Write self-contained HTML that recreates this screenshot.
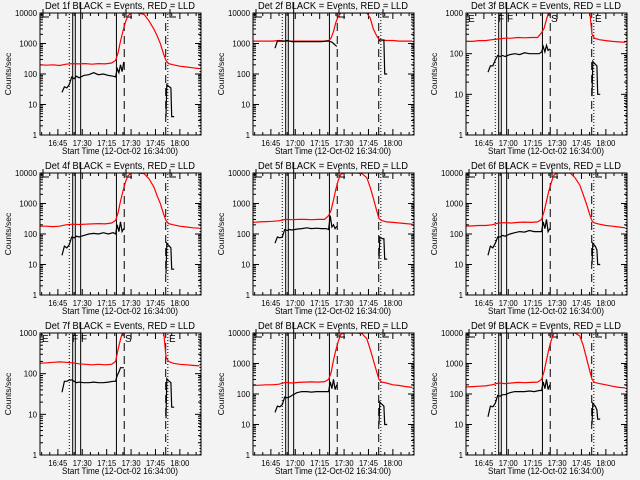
<!DOCTYPE html>
<html><head><meta charset="utf-8"><style>
html,body{margin:0;padding:0;background:#f3f3f3;}
svg{display:block;font-family:"Liberation Sans",sans-serif;}
</style></head><body>
<svg id="chart" width="640" height="480" viewBox="0 0 640 480">
<rect x="0" y="0" width="640" height="480" fill="#f3f3f3"/>
</svg>
<script>
// ---- data ----
const detectorNames = ["1f","2f","3f","4f","5f","6f","7f","8f","9f"];
const yMaxes = [10000,10000,1000,10000,10000,10000,1000,10000,10000];
const redTimes = [0,4,8,12,16,20,24,28,32,36,40,44,46.5,48,49.5,51,52.5,54,56,60,64,67,70,72,74,76,77.5,79,82,86,90,94,98];
const red1 = [200,195,200,190,210,220,215,220,210,220,215,230,280,500,1200,2500,5000,8000,10000,10000,9000,5500,3000,1800,1000,450,280,220,200,180,170,160,150];
const red2 = [1200,1200,1200,1200,1250,1200,1200,1200,1200,1200,1200,1200,1250,1500,2500,5000,8000,10000,10000,10000,10000,10000,10000,7000,3000,1800,1350,1300,1250,1250,1200,1200,1200];
const red3 = [200,200,210,210,220,230,240,240,250,245,250,250,330,420,700,1100,3000,8000,10000,10000,10000,10000,10000,10000,5000,1200,300,240,220,210,200,195,190];
const red4 = [180,180,175,180,200,210,205,210,215,220,215,230,280,500,1200,2500,5000,8000,10000,10000,9500,6500,3500,1800,1000,450,280,220,200,180,170,160,155];
const red5 = [240,250,255,260,270,300,295,300,300,295,300,300,400,600,1300,3000,6000,9000,10000,10000,10000,9500,7000,3500,1500,600,320,280,250,240,230,220,210];
const red6 = [180,185,190,190,200,230,235,230,240,245,240,250,300,550,1200,2600,5000,8500,10000,10000,10000,7000,4000,2000,1000,450,270,230,210,190,180,170,160];
const red7 = [180,185,190,195,190,185,175,170,165,170,165,170,200,400,700,1100,3000,8000,10000,10000,10000,10000,10000,10000,3000,1100,260,200,180,170,165,160,155];
const red8 = [190,195,200,200,210,240,230,240,245,250,245,255,300,500,1300,2800,5500,9000,10000,10000,10000,9500,6500,3000,1300,550,300,250,230,200,190,175,165];
const red9 = [170,175,180,185,200,230,220,230,240,235,240,245,300,550,1300,3000,6000,9500,10000,10000,10000,10000,8000,4000,1600,600,300,240,220,200,180,165,160];
const redSeries = [red1,red2,red3,red4,red5,red6,red7,red8,red9];
const blackTimes = [13.5,15,16.5,18,19.5,21,22.5,24,27,30,33,36,39,42,45,46.5,47.5,48.5,49.5,50.5,51.5,77.5,78,78.5,79.5,80.5,81,82.5];
const black1 = [25,38,35,45,80,70,85,75,90,95,110,95,100,90,85,80,150,110,200,120,250,4,45,42,38,35,4,4];
const black2 = [700,1200,1200,1200,1200,1250,1200,1150,1150,1150,1150,1150,1150,1150,1200,1200,1150,1100,1000,900,800,1200,1300,1300,1300,1300,100,100];
const black3 = [35,50,50,70,90,85,90,85,95,100,95,105,100,100,100,110,150,110,160,120,130,9,65,60,55,50,10,10];
const black4 = [20,40,35,45,80,75,85,80,90,100,105,100,110,100,110,100,200,120,250,120,150,5,50,45,40,35,7,7];
const black5 = [50,80,75,80,140,130,140,135,145,150,160,150,155,150,150,140,400,170,200,150,180,15,80,75,70,70,15,15];
const black6 = [20,40,35,50,80,80,90,85,100,110,120,115,130,120,120,120,250,150,300,120,150,10,50,45,40,30,10,10];
const black7 = [35,65,65,70,70,65,60,62,60,60,62,60,60,62,65,65,90,110,140,140,140,8,75,70,65,60,15,15];
const black8 = [25,40,38,45,80,75,80,90,110,120,120,115,120,120,120,120,250,150,300,140,200,10,55,50,45,40,10,10];
const black9 = [18,40,38,50,90,85,95,95,110,120,120,120,125,120,130,130,250,150,300,140,200,10,50,45,40,30,15,15];
const blackSeries = [black1,black2,black3,black4,black5,black6,black7,black8,black9];
const xTickMinutes = [11,26,41,56,71,86];
const xTickLabelsA = ["16:45","17:30","17:15","17:30","17:45","18:00"];
const xTickLabelsB = ["16:45","17:00","17:15","17:30","17:45","18:00"];
const dottedMarks = [18,78.6,98.4];
const solidMarks = [20.1,21.7,25,47];
const dashedMarks = [51.8,77.3];

// ---- layout ----
const NS = "http://www.w3.org/2000/svg";
const svg = document.getElementById("chart");
const L = 40, R = 201, T = 13, B = 135, TMAX = 99;
function xs(t){ return L + t/TMAX*(R-L); }
function mk(tag, attrs, parent){
  const e = document.createElementNS(NS, tag);
  for (const k in attrs) e.setAttribute(k, attrs[k]);
  parent.appendChild(e); return e;
}
const defs = mk("defs", {}, svg);
const cp = mk("clipPath", {id:"plotclip"}, defs);
mk("rect", {x:L, y:T, width:R-L, height:B-T}, cp);

for (let p = 0; p < 9; p++) {
  const col = p % 3, row = Math.floor(p/3);
  const ymax = yMaxes[p];
  const dec = Math.log10(ymax);
  const ys = v => B - Math.log10(v)/dec*(B-T);
  const g = mk("g", {transform:`translate(${col*213},${row*160})`}, svg);
  
  

  const ti = mk("text", {x:120, y:9, "font-size":10, "text-anchor":"middle", fill:"#000", textLength:150, lengthAdjust:"spacingAndGlyphs"}, g);
  ti.textContent = `Det ${detectorNames[p]} BLACK = Events, RED = LLD`;
  
  

  const yt = mk("text", {x:0, y:0, "font-size":8.5, "text-anchor":"middle", transform:"translate(11,74) rotate(-90)", fill:"#000"}, g);
  yt.textContent = "Counts/sec";
  
  

  const xt = mk("text", {x:120, y:154, "font-size":9.5, "text-anchor":"middle", fill:"#000", textLength:116, lengthAdjust:"spacingAndGlyphs"}, g);
  xt.textContent = "Start Time (12-Oct-02 16:34:00)";
  
  

  for (let d = 0; d <= dec; d++) {
    const v = Math.pow(10, d), y = ys(v);
    const s = String(v);
    const lb = mk("text", {x:37, y:y+3, "font-size":8.5, "text-anchor":"end", fill:"#000", textLength:s.length*4.4, lengthAdjust:"spacingAndGlyphs"}, g);
    lb.textContent = s;
    
    
    mk("line", {x1:L, x2:L+6, y1:y, y2:y, stroke:"#000", "stroke-width":1}, g);
    mk("line", {x1:R-6, x2:R, y1:y, y2:y, stroke:"#000", "stroke-width":1}, g);
    if (d < dec) for (let m = 2; m <= 9; m++) {
      const ym = ys(m*v);
      mk("line", {x1:L, x2:L+3, y1:ym, y2:ym, stroke:"#000", "stroke-width":1}, g);
      mk("line", {x1:R-3, x2:R, y1:ym, y2:ym, stroke:"#000", "stroke-width":1}, g);
    }
  }
  const labels = (col === 0) ? xTickLabelsA : xTickLabelsB;
  for (let m = 1; m < TMAX; m += 5) {
    const x = xs(m), major = ((m - 11) % 15 === 0);
    const len = major ? 6 : 3;
    mk("line", {x1:x, x2:x, y1:B, y2:B-len, stroke:"#000", "stroke-width":1}, g);
    mk("line", {x1:x, x2:x, y1:T, y2:T+len, stroke:"#000", "stroke-width":1}, g);
  }
  xTickMinutes.forEach((m, i) => {
    const lb = mk("text", {x:xs(m), y:146, "font-size":8.5, "text-anchor":"middle", fill:"#000", textLength:19, lengthAdjust:"spacingAndGlyphs"}, g);
    lb.textContent = labels[i];
    
    
  });

  dottedMarks.forEach(m => {
    const ln = mk("line", {x1:xs(m), x2:xs(m), y1:B, y2:T, stroke:"#000", "stroke-width":1, "stroke-dasharray":"1,2"}, g);
    
    
  });
  solidMarks.forEach((m, i) => {
    const ln = mk("line", {x1:xs(m), x2:xs(m), y1:B, y2:(i === 2 ? 2 : T), stroke:"#000", "stroke-width":1}, g);
    
    
  });
  dashedMarks.forEach(m => {
    const ln = mk("line", {x1:xs(m), x2:xs(m), y1:B, y2:T, stroke:"#000", "stroke-width":1, "stroke-dasharray":"8,5"}, g);
    
    
  });

  if (ymax === 1000) {
    [[42,"E"],[72,"F"],[81,"F"],[125,"S"],[169,"E"]].forEach(f => {
      const t = mk("text", {x:f[0], y:22, "font-size":10, fill:"#000"}, g);
      t.textContent = f[1];
      
      
    });
  } else {
    [43,126,170].forEach(x => {
      const pth = mk("path", {d:`M${x},9 V17 H${x+6}`, fill:"none", stroke:"#000", "stroke-width":1}, g);
      
      
    });
  }

  const plot = mk("g", {"clip-path":"url(#plotclip)"}, g);
  let d = "";
  redSeries[p].forEach((v, i) => { d += (i ? "L" : "M") + xs(redTimes[i]).toFixed(1) + "," + ys(v).toFixed(1); });
  const rl = mk("path", {d:d, fill:"none", stroke:"#ff0000", "stroke-width":1.2}, plot);
  
  
  d = "";
  blackSeries[p].forEach((v, i) => {
    const brk = i === 0 || (blackTimes[i] - blackTimes[i-1] > 10);
    d += (brk ? "M" : "L") + xs(blackTimes[i]).toFixed(1) + "," + ys(v).toFixed(1);
  });
  const bl = mk("path", {d:d, fill:"none", stroke:"#000", "stroke-width":1.2}, plot);
  
  

  const fr = mk("rect", {x:L, y:T, width:R-L, height:B-T, fill:"none", stroke:"#000", "stroke-width":1}, g);
  
  
}
</script>
</body></html>
